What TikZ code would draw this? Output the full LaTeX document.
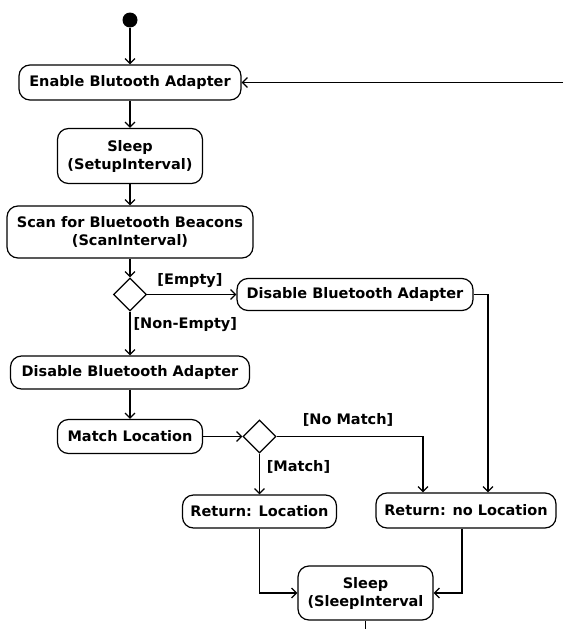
\documentclass[tikz,border=0pt]{standalone}
\usepackage{fontspec}
\setmainfont{DejaVu Sans}
\usetikzlibrary{shapes.geometric,arrows.meta}

\begin{document}
\begin{tikzpicture}[x=1pt, y=-1pt, line width=1.2pt, actionStyle/.style={rectangle, draw, rounded corners=11pt, align=center, inner sep=0pt, font=\fontsize{14.5}{18}\selectfont\bfseries}, decisionStyle/.style={diamond, draw, aspect=1, minimum size=33pt, inner sep=0pt}, startStyle/.style={circle, fill, minimum size=15pt, inner sep=0pt}, guardStyle/.style={inner sep=0pt, font=\fontsize{14.5}{18}\selectfont\bfseries}, >={Straight Barb[length=5pt, width=10pt]}]
                    \useasboundingbox (0, 0) rectangle (563, 629);

                    \node[startStyle] (start) at (130, 20) {};
                    \node[actionStyle, minimum width=222pt, minimum height=35pt] (enable) at (130, 82.5) {Enable Blutooth Adapter};
                    \node[actionStyle, minimum width=145pt, minimum height=55pt] (sleepSetup) at (130, 156) {Sleep\\(SetupInterval)};
                    \node[actionStyle, minimum width=246pt, minimum height=52pt] (scan) at (130, 232) {Scan for Bluetooth Beacons\\(ScanInterval)};
                    \node[decisionStyle] (emptyCheck) at (130, 294.5) {};
                    \node[actionStyle, minimum width=236pt, minimum height=32pt] (disableRight) at (355, 294.5) {Disable Bluetooth Adapter};
                    \node[actionStyle, minimum width=239pt, minimum height=33pt] (disableLeft) at (130, 372.5) {Disable Bluetooth Adapter};
                    \node[actionStyle, minimum width=145pt, minimum height=34pt] (match) at (130, 436.5) {Match Location};
                    \node[decisionStyle] (matchCheck) at (259.5, 436.5) {};
                    \node[actionStyle, minimum width=154pt, minimum height=33pt] (retLoc) at (259.5, 511.5) {Return: Location};
                    \node[actionStyle, minimum width=180pt, minimum height=35pt] (retNoLoc) at (466, 510.5) {Return: no Location};
                    \node[actionStyle, minimum width=135pt, minimum height=54pt] (sleepInt) at (365.5, 593) {Sleep\\(SleepInterval};

                    \node[guardStyle] (emptyGuard) at (190, 281) {[Empty]};
                    \node[guardStyle, anchor=west] (nonEmptyGuard) at (133, 325) {[Non-Empty]};
                    \node[guardStyle] (noMatchGuard) at (348, 420) {[No Match]};
                    \node[guardStyle] (matchGuard) at (298.5, 467) {[Match]};

                    \coordinate (loopIn) at (563, 82.5);
                    \coordinate (loopOut) at (365.5, 629);

                    \draw[->] (start) -- (enable);
                    \draw[->] (enable) -- (sleepSetup);
                    \draw[->] (sleepSetup) -- (scan);
                    \draw[->] (scan) -- (emptyCheck);
                    \draw[->] (emptyCheck) -- (disableRight);
                    \draw[->] (emptyCheck) -- (disableLeft);
                    \draw[->] (disableLeft) -- (match);
                    \draw[->] (match) -- (matchCheck);
                    \draw[->] (matchCheck.south) -- (retLoc.north);
                    \draw[->] (matchCheck.east) -| ([xshift=-43pt]retNoLoc.north);
                    \draw[->] (disableRight.east) -| ([xshift=22pt]retNoLoc.north);
                    \draw[->] (retLoc.south) |- (sleepInt.west);
                    \draw[->] ([xshift=-4pt]retNoLoc.south) |- (sleepInt.east);
                    \draw (sleepInt) -- (loopOut);
                    \draw[->] (loopIn) -- (enable.east);
                \end{tikzpicture}
\end{document}
